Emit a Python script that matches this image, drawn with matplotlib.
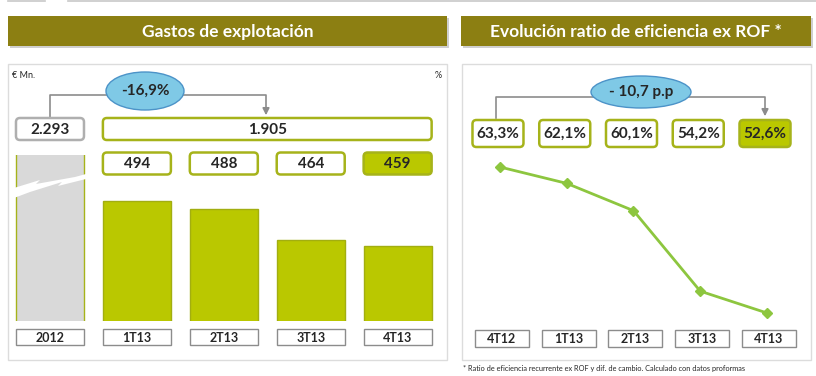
import matplotlib
matplotlib.use("Agg")
import matplotlib.pyplot as plt
from matplotlib.patches import FancyBboxPatch, Rectangle, Ellipse, Polygon

plt.rcParams['font.family'] = ['Lato', 'DejaVu Sans']

# datos
gastos_cats = ["2012", "1T13", "2T13", "3T13", "4T13"]
gastos_vals = [2293, 494, 488, 464, 459]
gastos_total_2013 = "1.905"
gastos_var = "-16,9%"

ratio_cats = ["4T12", "1T13", "2T13", "3T13", "4T13"]
ratio_vals = [63.3, 62.1, 60.1, 54.2, 52.6]
ratio_var = "- 10,7 p.p"

nota = "* Ratio de eficiencia recurrente ex ROF y dif. de cambio. Calculado con datos proformas"

OLIVE = '#8C7F12'
GREEN = '#BAC800'
GREEN_EDGE = '#A6B31A'
LINE_GREEN = '#8DC63F'
GREY_EDGE = '#8C8C8C'
TXT = '#262626'

W, H = 816, 376
fig = plt.figure(figsize=(W / 100, H / 100), dpi=100)


def px_axes(x0, y0, x1, y1, zorder=2):
    return fig.add_axes([x0 / W, 1 - y1 / H, (x1 - x0) / W, (y1 - y0) / H], zorder=zorder)


def pixel_layer(zorder):
    a = fig.add_axes([0, 0, 1, 1], zorder=zorder)
    a.set_xlim(0, W)
    a.set_ylim(H, 0)
    a.axis('off')
    return a


bg = pixel_layer(0)   # fondo: paneles y titulos
ov = pixel_layer(5)   # encima: cajas, textos, conectores


def rbox(ax, xc, yc, w, h, text, edge, face='white', lw=1.8, size=11, rounded=True, color=TXT):
    style = "round,pad=0,rounding_size=4" if rounded else "square,pad=0"
    ax.add_patch(FancyBboxPatch((xc - w / 2, yc - h / 2), w, h, boxstyle=style,
                                fc=face, ec=edge, lw=lw, zorder=5))
    ax.text(xc, yc + 0.5, text, ha='center', va='center', fontsize=size,
            fontweight='bold', color=color, zorder=6)


# linea superior
bg.plot([8, 45], [0.8, 0.8], color='#C8C8C8', lw=1.2)
bg.plot([68, 816], [0.8, 0.8], color='#C8C8C8', lw=1.2)

# barras de titulo
for x0, x1, title in [(8, 447, "Gastos de explotación"),
                      (461, 811, "Evolución ratio de eficiencia ex ROF *")]:
    bg.add_patch(Rectangle((x0 + 2, 18), x1 - x0, 30, fc='#CFCFCF', ec='none', zorder=1))
    bg.add_patch(Rectangle((x0, 16), x1 - x0, 30, fc=OLIVE, ec='none', zorder=2))
    bg.text((x0 + x1) / 2, 32, title, ha='center', va='center', color='white',
            fontsize=12.5, fontweight='bold', zorder=3)

# paneles
for x0, x1 in [(8, 447), (462, 811)]:
    bg.add_patch(Rectangle((x0, 64), x1 - x0, 296, fc='white', ec='#DCDCDC', lw=1, zorder=1))

ov.text(12, 75, "€ Mn.", fontsize=6.5, color=TXT, va='center')
ov.text(442, 75, "%", fontsize=6.5, color=TXT, va='center', ha='right')

# ---- grafico de barras ----
axb = px_axes(8, 155, 447, 321)
axb.set_xlim(-0.483, 4.568)
axb.set_ylim(401, 530)
axb.axis('off')
colors = ['#D9D9D9'] + [GREEN] * 4
edges = ['#A6B31A'] + ['#A2AE10'] * 4
axb.bar(range(len(gastos_vals)), gastos_vals, width=0.78, color=colors,
        edgecolor=edges, linewidth=1)


def bx(i):
    # centro en pixeles de la categoria i de las barras
    p = axb.transData.transform((i, 450))
    return ov.transData.inverted().transform(p)[0]


# rayo de corte en la barra 2012
c0 = bx(0)
ov.add_patch(Polygon([(c0 - 36, 188), (c0 - 10, 180), (c0 - 14, 184), (c0 + 25, 177), (c0 + 36, 174),
                      (c0 + 36, 179), (c0 + 8, 186), (c0 + 12, 182), (c0 - 20, 192), (c0 - 36, 198)],
                     closed=True, fc='white', ec='none', zorder=4))

bw = 68
# cajas de valores
rbox(ov, bx(0), 129, bw, 22, f"{gastos_vals[0]:,}".replace(',', '.'), '#AFAFAF')
rbox(ov, (bx(1) + bx(4)) / 2, 129, bx(4) - bx(1) + bw, 22, gastos_total_2013, GREEN_EDGE)
for i in range(1, 5):
    face = GREEN if i == 4 else 'white'
    rbox(ov, bx(i), 163.5, bw, 22, str(gastos_vals[i]), GREEN_EDGE, face=face)
# categorias
for i, c in enumerate(gastos_cats):
    rbox(ov, bx(i), 337, bw, 16, c, GREY_EDGE, lw=1, size=9, rounded=False)

# conector y variacion
ov.plot([bx(0), bx(0), 266, 266], [118, 95, 95, 112], color='#8C8C8C', lw=1.2, zorder=3)
ov.annotate('', xy=(266, 118), xytext=(266, 108),
            arrowprops=dict(arrowstyle='-|>', color='#8C8C8C', lw=1.2), zorder=3)
ov.add_patch(Ellipse((145, 91), 78, 38, fc='#7FC9E6', ec='#4C93C8', lw=1, zorder=4))
ov.text(145, 91, gastos_var, ha='center', va='center', fontsize=11, fontweight='bold', color=TXT, zorder=5)

# ---- grafico de lineas ----
axl = px_axes(462, 155, 811, 325)
axl.set_xlim(-0.569, 4.659)
axl.set_ylim(51.72, 64.18)
axl.axis('off')
axl.plot(range(len(ratio_vals)), ratio_vals, color=LINE_GREEN, lw=2,
         marker='D', markersize=5, markerfacecolor=LINE_GREEN, markeredgecolor=LINE_GREEN)


def lx(i):
    p = axl.transData.transform((i, 58))
    return ov.transData.inverted().transform(p)[0]


for i, v in enumerate(ratio_vals):
    face = GREEN if i == len(ratio_vals) - 1 else 'white'
    rbox(ov, lx(i) - 2, 133.5, 51, 27, f"{v:.1f}%".replace('.', ','), GREEN_EDGE, face=face)
    rbox(ov, lx(i) + 2, 338.5, 54, 17, ratio_cats[i], GREY_EDGE, lw=1, size=9, rounded=False)

ov.plot([lx(0) - 4, lx(0) - 4, lx(4) - 2, lx(4) - 2], [118, 97, 97, 112], color='#8C8C8C', lw=1.2, zorder=3)
ov.annotate('', xy=(lx(4) - 2, 119), xytext=(lx(4) - 2, 108),
            arrowprops=dict(arrowstyle='-|>', color='#8C8C8C', lw=1.2), zorder=3)
ov.add_patch(Ellipse((641, 92), 100, 32, fc='#7FC9E6', ec='#4C93C8', lw=1, zorder=4))
ov.text(641, 92, ratio_var, ha='center', va='center', fontsize=11, fontweight='bold', color=TXT, zorder=5)

ov.text(463, 368, nota, fontsize=5.3, color=TXT, va='center')

fig.savefig("out.png", dpi=100)
